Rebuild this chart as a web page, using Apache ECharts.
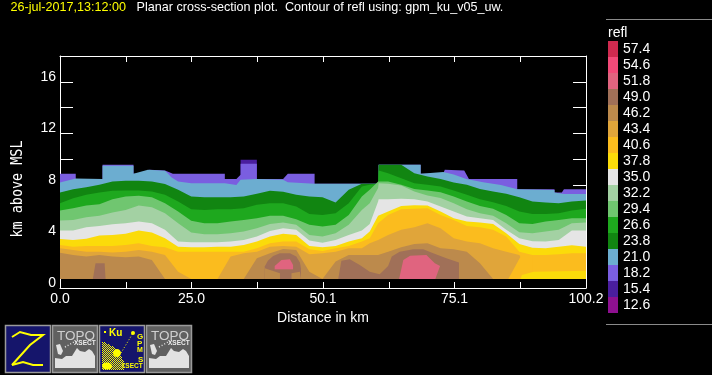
<!DOCTYPE html>
<html><head><meta charset="utf-8">
<style>html,body{margin:0;padding:0;background:#000}#c{width:712px;height:375px}</style>
<script src="https://cdn.jsdelivr.net/npm/echarts@6/dist/echarts.min.js"></script>
</head><body><div id="c"></div>
<script>
// Distance samples (km) shared by the contour tops
var xs=[0,2.5,5,7.5,10,12.5,15,17.5,20,22.5,25,27.5,30,32.5,35,37.5,40,42.5,45,47.5,50,52.5,55,57.5,59,60.6,60.7,62.5,65,67.5,70,72.5,75,77.5,80,82.5,85,87.5,90,92.5,95,97.5,100.2];
// Contour top heights (km) per reflectivity level
var top238=[7.41,7.67,7.82,8.01,8.26,8.32,8.32,8.26,8.06,7.62,7.10,7.05,7.05,7.05,7.10,7.31,7.54,7.46,7.23,7.10,7.05,6.63,7.62,8.08,8.08,8.08,9.56,9.56,9.56,8.91,8.65,8.45,8.19,8.01,7.69,7.49,7.31,7.05,6.71,6.63,6.58,6.71,6.79];
var top266=[6.58,6.97,7.23,7.41,7.54,7.56,7.56,7.49,7.23,6.71,6.11,6.06,6.11,6.11,6.19,6.45,6.58,6.58,6.32,5.75,5.67,5.80,6.58,7.88,8.01,8.08,9.12,8.91,8.52,8.13,8.01,7.88,7.56,7.23,6.89,6.66,6.37,5.93,5.75,5.75,5.80,6.01,6.14];
var top294=[6.01,6.19,6.40,6.50,6.89,7.10,7.15,7.05,6.58,5.93,5.21,5.03,5.03,5.16,5.28,5.41,5.60,5.60,5.34,4.90,4.77,4.90,5.67,7.10,7.62,8.26,8.39,8.26,8.01,7.69,7.56,7.43,7.10,6.71,6.37,6.14,5.67,5.03,4.97,5.16,5.28,5.41,5.41];
var top322=[5.23,5.28,5.49,5.60,5.86,6.06,6.40,6.27,5.80,5.03,4.30,4.17,4.17,4.25,4.38,4.64,4.97,5.08,4.90,4.12,3.99,4.25,4.90,6.06,6.58,7.75,8.13,8.08,7.95,7.49,7.18,6.99,6.58,6.11,5.80,5.60,5.03,4.33,4.25,4.38,4.51,5.03,5.08];
var top350=[4.46,4.46,4.72,4.82,4.95,5.03,5.16,5.03,4.51,3.60,3.54,3.54,3.54,3.60,3.73,3.99,4.43,4.64,4.51,3.68,3.52,3.73,4.12,4.46,4.97,6.71,6.89,6.89,6.92,6.89,6.71,6.32,5.93,5.54,5.41,5.28,4.51,3.86,3.63,3.60,3.73,4.46,4.46];
var top378=[3.81,3.73,3.83,4.07,4.12,4.20,4.46,4.30,3.86,3.21,3.16,3.16,3.21,3.21,3.34,3.60,3.99,4.20,4.12,3.26,3.16,3.26,3.60,3.86,4.38,5.60,5.75,5.93,6.37,6.42,6.40,5.93,5.41,5.16,5.08,4.97,4.25,3.42,3.13,3.08,3.21,3.32,3.21];
var top406=[3.34,3.21,3.26,3.26,3.26,3.34,3.47,3.26,3.16,2.82,2.82,2.82,2.82,2.82,2.82,3.08,3.47,3.60,3.60,3.01,2.88,3.08,3.26,3.60,3.86,5.03,5.16,5.67,6.11,6.14,6.19,5.67,5.28,4.82,4.72,4.51,3.99,2.82,2.56,2.56,2.62,2.69,2.69];
var top434=[3.08,2.95,2.82,2.82,2.75,2.82,2.95,2.82,2.56,1.27,0.70,0.70,0.70,2.44,2.69,2.82,3.21,3.26,3.21,2.62,2.69,2.82,3.08,3.08,3.47,3.73,3.86,4.12,4.51,4.72,5.03,4.64,3.86,3.60,3.47,3.08,2.82,2.56,0.70,0.70,0.70,0.70,0.70];
var top462=[2.74,2.56,2.44,2.56,2.44,2.38,2.44,2.18,0.70,0.70,0.70,0.70,0.70,0.70,0.70,2.31,2.69,3.03,2.95,1.27,0.70,2.05,2.56,2.56,2.56,2.56,2.62,2.82,3.16,3.42,3.47,3.08,3.01,2.82,1.92,0.70,0.70,0.70,0.70,0.70,0.70,0.70,0.70];
// Cloud-top outlines and closed contours as [km, height] pairs
var top154=[[34.4,9.95],[37.5,9.95]];
var top182=[[0,8.86],[3,8.86],[3,8.45],[8.1,8.45],[8.1,9.56],[14,9.56],[14,8.86],[16.75,8.86],[17,9.17],[20,9.12],[21.5,8.86],[31.4,8.86],[31.4,8.45],[33.6,8.45],[34.4,8.78],[34.4,9.64],[37.5,9.64],[37.5,8.45],[42.5,8.45],[43.4,8.86],[48.5,8.86],[48.5,8.08],[60.7,8.08],[60.7,9.56],[68.7,9.56],[68.7,8.86],[73,8.86],[73.3,9.17],[77,9.12],[77.9,8.45],[87.1,8.45],[87.1,7.67],[94.2,7.67],[94.2,7.41],[95.6,7.41],[96,7.67],[100.2,7.67]];
var top210=[[0,8.19],[3,8.5],[8.1,8.45],[8.1,9.48],[14,9.48],[14,8.86],[16.75,9.17],[20,9.09],[20.6,8.86],[21.2,8.6],[22.5,8.26],[25,8.13],[31.4,8.13],[33.6,8.0],[34.4,8.4],[37.5,8.45],[42.5,8.4],[43.4,8.2],[48.5,8.08],[60.7,8.08],[60.7,9.56],[68.7,9.56],[68.7,8.86],[73,9.0],[75,8.8],[77.4,8.45],[80.6,8.2],[84,8.0],[87.1,7.67],[94.2,7.6],[94.2,7.41],[96,7.3],[100.2,7.3]];
var amber406b=[[85.4,0.7],[87.9,2.56],[90,2.56],[90,0.7]];
var yellow378b=[[87.7,0.7],[88,1.01],[90.2,1.27],[100.2,1.34],[100.2,0.7]];
var brown490a=[[6.26,0.7],[6.77,1.92],[8.5,1.92],[8.68,0.7]];
var brown490b=[[39,0.7],[39,1.66],[39.6,2.12],[40.6,2.49],[41.9,2.69],[43.8,2.69],[45,2.44],[45.7,1.97],[45.9,1.53],[45.9,0.7]];
var brown490c=[[53,0.7],[53.6,2.12],[55.2,2.23],[57.1,1.79],[59,1.27],[60.9,1.06],[62.5,1.71],[63.2,2.44],[64.7,2.82],[67.3,3.01],[69.2,3.01],[71.1,2.69],[73.6,2.31],[76,1.97],[76,0.7]];
var pink518a=[[40.9,0.7],[40.9,1.71],[42.2,2.18],[43.8,2.23],[44.4,1.79],[44.4,0.7]];
var pink518b=[[64.6,0.7],[65.4,2.18],[66.7,2.51],[69.8,2.56],[71.4,1.92],[72.4,1.71],[71.5,0.7]];
var brown490d=[[40.6,0.7],[40.6,1.45],[44.6,1.45],[44.6,0.7]];
var tan462a=[[39,0.7],[39,1.53],[41.9,1.14],[41.9,0.7]];
var tan462b=[[44.1,0.7],[44.1,1.14],[45.7,1.27],[45.9,1.4],[45.9,0.7]];
// Colour scale and tick labels
var levels=['57.4','54.6','51.8','49.0','46.2','43.4','40.6','37.8','35.0','32.2','29.4','26.6','23.8','21.0','18.2','15.4','12.6'];
var colors=['#CF2A4F','#F24A78','#E0647F','#A07058','#BC8A4C','#E0A53A','#FBBC1E','#FBDB0A','#E5E5E5','#A3D1A3','#70C670','#1EA81E','#118511','#6CADD0','#7A5EE0','#4A1E9E','#8E1090'];
var xTickLabels=['0.0','25.0','50.1','75.1','100.2'];
var yTickLabels={0:'0',4:'4',8:'8',12:'12',16:'16'};

function zip(a){return a.map(function(h,i){return [xs[i],h];});}
var layers=[
 ['12.6',[]],['15.4',top154],['18.2',top182],['21.0',top210],['23.8',zip(top238)],['26.6',zip(top266)],
 ['29.4',zip(top294)],['32.2',zip(top322)],['35.0',zip(top350)],['37.8',zip(top378)],['40.6',zip(top406)],
 ['43.4',zip(top434)],['40.6',amber406b],['37.8',yellow378b],['46.2',zip(top462)],['49.0',brown490a],
 ['49.0',brown490b],['49.0',brown490c],['51.8',pink518a],['51.8',pink518b],['49.0',brown490d],
 ['46.2',tan462a],['46.2',tan462b],['54.6',[]],['57.4',[]]
];
function colorOf(n){return colors[levels.indexOf(n)];}
var series=layers.map(function(l){
 return {name:l[0],type:'line',data:l[1],showSymbol:false,symbol:'none',silent:true,animation:false,
  lineStyle:{width:0},itemStyle:{color:colorOf(l[0])},areaStyle:{origin:0.7,color:colorOf(l[0]),opacity:1}};
});
var W='#ffffff',F='"Liberation Sans",sans-serif';
var axisLine={show:true,onZero:false,lineStyle:{color:W,width:1}};

function icon(x,bg,kids){
 return {type:'group',x:x,y:325,children:[{type:'rect',shape:{x:0.5,y:0.5,width:45,height:47},style:{fill:bg,stroke:'#9a9a9a',lineWidth:1.5}}].concat(kids)};
}
function topo(){
 return [
  {type:'text',style:{x:5,y:4,text:'TOPO',fill:'#cfcfcf',font:'13.5px '+F}},
  {type:'text',style:{x:22,y:15,text:'XSECT',fill:'#eeeeee',font:'bold 6.5px '+F}},
  {type:'polygon',shape:{points:[[3,43],[3,33],[10,34],[14,31],[20,31],[25,23],[28,26],[33,27],[37,24],[40,26],[43,31],[43,43]]},style:{fill:'#e2e2e2'}},
  {type:'polygon',shape:{points:[[4,20],[8,19],[11,26],[9,30],[6,29]]},style:{fill:'#e2e2e2'}},
  {type:'polyline',shape:{points:[[13,22],[22,17]]},style:{stroke:'#e2e2e2',fill:null,lineWidth:1.5,lineDash:[1,2]}}
 ];
}
var Y='#ffff00';
var checker=[];
for(var py=16;py<=44;py++){for(var px=3;px<=24;px++){
 var edge=px<=12?16+(px-3)*0.45:(px<=20?20+(px-12):28+(px-20)*1.75);
 if(py>=edge&&(px+py)%2===0){checker.push({type:'rect',shape:{x:px,y:py,width:1,height:1},style:{fill:Y}});}
}}
var chart=echarts.init(document.getElementById('c'),null,{renderer:'canvas'});
chart.setOption({
 backgroundColor:'#000',animation:false,
 title:{left:10.5,top:1,padding:0,text:'{y|26-jul-2017,13:12:00}{w|   Planar cross-section plot.  Contour of refl using: gpm_ku_v05_uw.}',
  textStyle:{rich:{y:{color:'#ffff00',fontSize:12.6,fontFamily:F,fontWeight:'normal'},w:{color:W,fontSize:12.6,fontFamily:F,fontWeight:'normal'}}}},
 legend:{orient:'vertical',left:608,top:41,padding:0,itemGap:0,itemWidth:10,itemHeight:16,selectedMode:false,
  textStyle:{color:W,fontSize:14,fontFamily:F},
  data:levels.map(function(n){return {name:n,icon:'rect',itemStyle:{color:colorOf(n)}};})},
 grid:{left:60,top:56,right:126,bottom:87,containLabel:false},
 xAxis:[
  {type:'value',min:0,max:100.2,interval:12.525,position:'bottom',axisLine:axisLine,splitLine:{show:false},
   axisTick:{show:true,inside:true,length:6,lineStyle:{color:W}},
   axisLabel:{color:W,fontSize:14,fontFamily:F,margin:4,showMaxLabel:true,showMinLabel:true,hideOverlap:false,
    formatter:function(v,i){return i%2?'':xTickLabels[i/2];}},
   name:'Distance in km',nameLocation:'middle',nameGap:18,nameTextStyle:{color:W,fontSize:14,fontFamily:F}},
  {type:'value',min:0,max:100.2,interval:12.525,position:'top',axisLine:axisLine,splitLine:{show:false},
   axisTick:{show:true,inside:true,length:6,lineStyle:{color:W}},axisLabel:{show:false}}
 ],
 yAxis:[
  {type:'value',min:0,max:18,interval:2,position:'left',axisLine:axisLine,splitLine:{show:false},
   axisTick:{show:true,inside:true,length:13,lineStyle:{color:W}},
   axisLabel:{color:W,fontSize:14,fontFamily:F,margin:4,verticalAlign:'bottom',lineHeight:10,showMaxLabel:false,
    formatter:function(v){return yTickLabels[v]||'';}}},
  {type:'value',min:0,max:18,interval:2,position:'right',axisLine:axisLine,splitLine:{show:false},
   axisTick:{show:true,inside:true,length:13,lineStyle:{color:W}},axisLabel:{show:false}}
 ],
 series:series,
 graphic:[
  {type:'text',x:10,y:189,rotation:Math.PI/2,scaleX:0.84,originX:0,originY:0,style:{text:'km above MSL',fill:W,font:'16px "DejaVu Sans Mono",monospace',align:'center',verticalAlign:'top'}},
  {type:'text',style:{x:608,y:26,text:'refl',fill:W,font:'14px '+F}},
  {type:'line',shape:{x1:606,y1:19.5,x2:712,y2:19.5},style:{stroke:'#8a8a8a',lineWidth:1}},
  {type:'line',shape:{x1:606,y1:324.5,x2:712,y2:324.5},style:{stroke:'#8a8a8a',lineWidth:1}},
  icon(5,'#15156b',[
   {type:'polyline',shape:{points:[[7,12],[15,7],[26,10],[38,10],[25,20],[7,40]]},style:{stroke:Y,fill:null,lineWidth:2}},
   {type:'polyline',shape:{points:[[7,40],[18,37],[28,40],[38,40]]},style:{stroke:Y,fill:null,lineWidth:2}}
  ]),
  icon(52,'#606060',topo()),
  icon(99,'#15156b',[
   {type:'rect',shape:{x:5,y:6,width:2,height:2},style:{fill:Y}},
   {type:'text',style:{x:10,y:3,text:'Ku',fill:Y,font:'bold 10px '+F}},
   {type:'text',style:{x:38,y:8,text:'G',fill:Y,font:'bold 8px '+F}},
   {type:'text',style:{x:38,y:15,text:'P',fill:Y,font:'bold 8px '+F}},
   {type:'text',style:{x:38,y:22,text:'M',fill:Y,font:'bold 7px '+F}},
   {type:'text',style:{x:39,y:31,text:'S',fill:Y,font:'bold 8px '+F}},
   {type:'text',style:{x:22,y:38,text:'XSECT',fill:Y,font:'bold 6.5px '+F}},
   {type:'polyline',shape:{points:[[22,28],[34,8]]},style:{stroke:Y,fill:null,lineWidth:1,lineDash:[1,2]}},
   {type:'circle',shape:{cx:34,cy:8,r:2},style:{fill:Y}},
   {type:'ellipse',shape:{cx:18,cy:28,rx:4,ry:4},style:{fill:Y}},
   {type:'ellipse',shape:{cx:8,cy:41,rx:5,ry:3.5},style:{fill:Y}}
  ].concat(checker)),
  icon(146,'#606060',topo())
 ]
});
</script></body></html>
